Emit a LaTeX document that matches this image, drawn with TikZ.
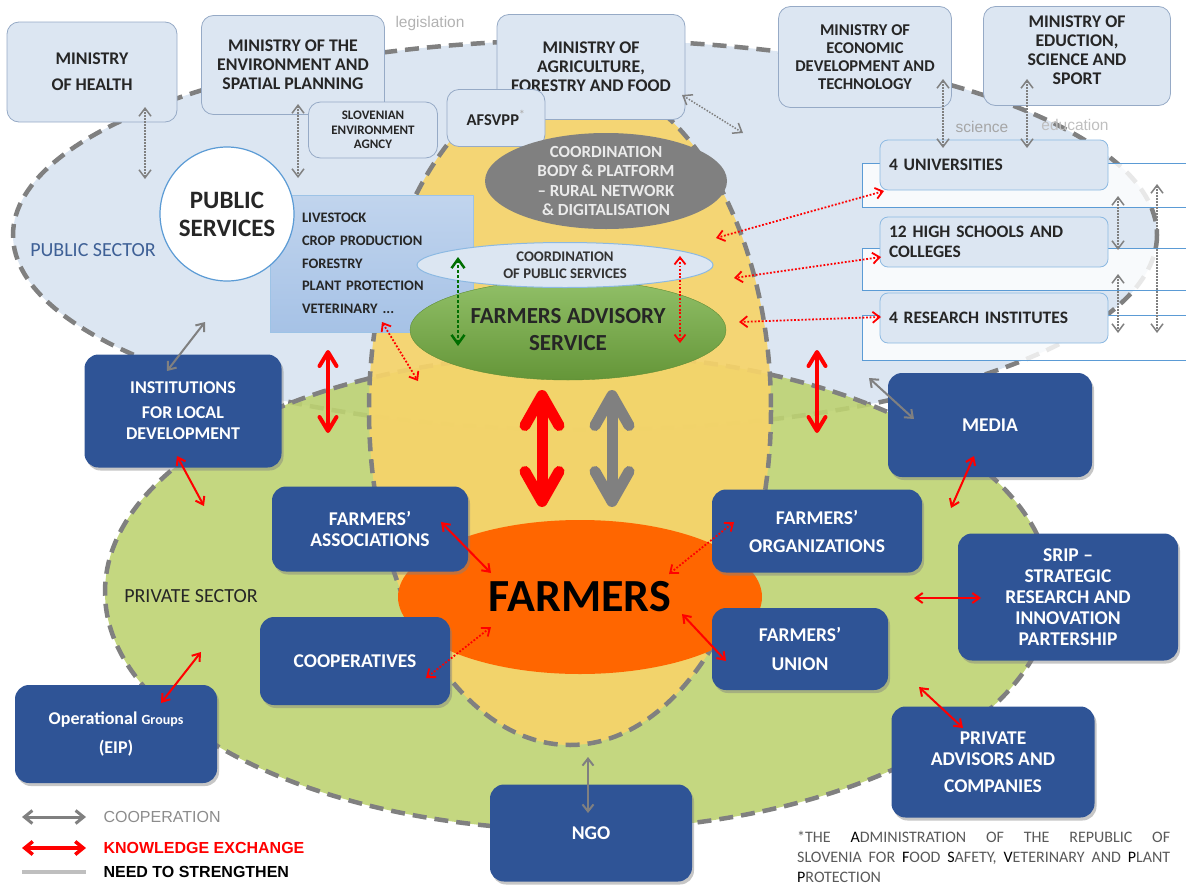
\documentclass[tikz,border=0pt]{standalone}
\usepackage{fontspec}
\setmainfont{Carlito}
\newfontfamily\arialfont{Liberation Sans}
\usetikzlibrary{arrows.meta,shapes.geometric,shadows}

\definecolor{pubblue}{RGB}{220,230,242}
\definecolor{privgreen}{RGB}{190,211,114}
\definecolor{coreyellow}{RGB}{247,212,106}
\definecolor{dashgray}{RGB}{128,128,128}
\definecolor{boxedge}{RGB}{150,170,198}
\definecolor{navy}{RGB}{47,84,150}
\definecolor{advgreen}{RGB}{118,176,66}
\definecolor{farmorange}{RGB}{255,102,0}
\definecolor{linkblue}{RGB}{91,155,213}
\definecolor{listblue}{RGB}{166,194,230}
\definecolor{knowred}{RGB}{255,0,0}
\definecolor{darkgreen}{RGB}{0,110,0}
\definecolor{sectorblue}{RGB}{62,96,150}

\tikzset{
  sector/.style={draw=dashgray, line width=4.5pt, dash pattern=on 14pt off 8pt},
  ministry/.style={draw=boxedge, fill=pubblue, rounded corners=12pt, line width=0.8pt, align=center, text=black!85, font=\fontsize{17.8}{19}\selectfont\bfseries},
  school/.style={draw=linkblue!70, fill=pubblue, rounded corners=8pt, line width=0.8pt, minimum width=228pt, minimum height=50pt, text width=210pt, align=left, text=black!85, font=\fontsize{17.5}{20}\selectfont\bfseries},
  actor/.style={fill=navy, rounded corners=14pt, align=center, text=white, font=\fontsize{19.5}{21}\selectfont\bfseries, drop shadow={opacity=0.45, shadow xshift=2pt, shadow yshift=-3pt}},
  faint/.style={text=black!35, font=\arialfont\fontsize{15.5}{18}\selectfont},
  legendtext/.style={anchor=west, font=\arialfont\fontsize{16}{19}\selectfont},
  legendbold/.style={anchor=west, font=\arialfont\fontsize{16}{19}\selectfont\bfseries},
  coop/.style={<->, >={Straight Barb[length=7pt,width=11pt]}, draw=dashgray, line width=2pt},
  coopdot/.style={<->, >={Straight Barb[length=8pt,width=12pt]}, draw=dashgray, line width=1.5pt, dash pattern=on 1.5pt off 1.5pt},
  know/.style={<->, >={Straight Barb[length=7pt,width=10pt]}, draw=knowred, line width=2pt},
  knowdot/.style={<->, >={Straight Barb[length=7pt,width=11pt]}, draw=knowred, line width=1.8pt, dash pattern=on 1.8pt off 1.8pt},
  bigtip/.style={<->, >={Straight Barb[length=30pt,width=34pt,round]}, line width=11pt},
}

\begin{document}
\begin{tikzpicture}[x=1pt, y=-1pt]
\useasboundingbox (0,0) rectangle (1186,889);

% sectors
\filldraw [sector, fill=pubblue] (585,235) ellipse [x radius=572, y radius=195];
\filldraw [sector, fill=privgreen, fill opacity=0.9] (578,592) ellipse [x radius=473, y radius=238];
\filldraw [sector, fill=coreyellow, fill opacity=0.92] (570,410) ellipse [x radius=201, y radius=335];

% white bands behind the schools
\foreach \ytop/\ybot in {163/207, 248/290, 315/360}
  \filldraw [draw=linkblue, fill=white, fill opacity=0.82, line width=1pt] (1200,\ytop) -- (862,\ytop) -- (862,\ybot) -- (1200,\ybot);

\node [faint, text=black!30] (legis) at (430,23) {legislation};
\node [faint] (sci) at (982,127) {science};
\node [faint, text=black!25] (edutxt) at (1075,125) {education};
\node [text=sectorblue, font=\fontsize{20}{22}\selectfont] (pubsec) at (93,250) {PUBLIC SECTOR};
\node [text=black!85, font=\fontsize{20}{22}\selectfont] (privsec) at (191,596) {PRIVATE SECTOR};

% ministries
\node [ministry, minimum width=170pt, minimum height=100pt] (health) at (92,72) {MINISTRY\\[7pt]OF HEALTH};
\node [ministry, minimum width=183pt, minimum height=99pt] (environ) at (293,65) {MINISTRY OF THE\\ENVIRONMENT AND\\SPATIAL PLANNING};
\node [ministry, minimum width=129pt, minimum height=56pt, font=\fontsize{13}{14.5}\selectfont\bfseries] (slovenv) at (373,130) {SLOVENIAN\\ENVIRONMENT\\AGNCY};
\node [ministry, minimum width=188pt, minimum height=105pt] (agri) at (591,67) {MINISTRY OF\\AGRICULTURE,\\FORESTRY AND FOOD};
\node [ministry, minimum width=98pt, minimum height=57pt, font=\fontsize{16.5}{18}\selectfont\bfseries] (afsvpp) at (496,118) {AFSVPP\textsuperscript{\textcolor{black!30}{*}}};
\node [ministry, minimum width=173pt, minimum height=101pt, font=\fontsize{16.5}{18}\selectfont\bfseries] (econ) at (865,57) {MINISTRY OF\\ECONOMIC\\DEVELOPMENT AND\\TECHNOLOGY};
\node [ministry, minimum width=187pt, minimum height=99pt] (educ) at (1077,56) {MINISTRY OF\\EDUCTION,\\SCIENCE AND\\SPORT\\[-7pt]\mbox{}};

% schools
\node [school] (univ) at (994,165) {4 UNIVERSITIES};
\node [school] (hschool) at (994,242) {12 HIGH SCHOOLS AND\\COLLEGES};
\node [school] (resinst) at (994,318) {4 RESEARCH INSTITUTES};

% public services
\node [draw=linkblue!60, top color=listblue!70!white, bottom color=listblue, line width=1pt, minimum width=203pt, minimum height=137pt, inner xsep=32pt, text width=139pt, align=left, font=\fontsize{14.5}{22.7}\selectfont\bfseries, text=black!85] (topics) at (371.5,263.5) {LIVESTOCK\\CROP PRODUCTION\\FORESTRY\\PLANT PROTECTION\\VETERINARY ...};
\node [circle, draw=linkblue, fill=white, line width=1.2pt, minimum size=134pt, align=center, font=\fontsize{25}{28}\selectfont\bfseries, text=black!85] (pubserv) at (227,214) {PUBLIC\\SERVICES};

% core
\node [ellipse, fill=dashgray, minimum width=242pt, minimum height=96pt] (coordbody) at (606,181) {};
\node [align=center, text=white!92!black, font=\fontsize{17}{19.5}\selectfont\bfseries] (coordtxt) at (coordbody) {COORDINATION\\BODY \& PLATFORM\\– RURAL NETWORK\\\& DIGITALISATION};
\node [ellipse, draw=advgreen!80!black, top color=advgreen!80!white, bottom color=advgreen!85!black, minimum width=316pt, minimum height=100pt, align=center, font=\fontsize{23}{27}\selectfont\bfseries, text=black!85] (advisory) at (568,330) {FARMERS ADVISORY\\SERVICE};
\node [ellipse, draw=linkblue!70, fill=pubblue, line width=1pt, minimum width=296pt, minimum height=45pt, inner sep=0pt, align=center, font=\fontsize{14.7}{17}\selectfont\bfseries, text=black!80] (coordpub) at (565,265) {COORDINATION\\OF PUBLIC SERVICES};
\node [ellipse, fill=farmorange, minimum width=364pt, minimum height=154pt, font=\fontsize{46}{50}\selectfont\bfseries] (farmers) at (580,597) {FARMERS};

% actors
\node [actor, minimum width=197pt, minimum height=113pt, font=\fontsize{18}{21}\selectfont\bfseries] (instit) at (183,411) {INSTITUTIONS\\[4pt]FOR LOCAL\\DEVELOPMENT};
\node [actor, minimum width=196pt, minimum height=85pt] (assoc) at (370,529) {FARMERS’\\ASSOCIATIONS};
\node [actor, minimum width=190pt, minimum height=88pt] (coopv) at (355,661) {COOPERATIVES};
\node [actor, minimum width=202pt, minimum height=98pt, font=\fontsize{18}{21}\selectfont\bfseries] (opgroup) at (116,734) {Operational {\fontsize{14}{17}\selectfont Groups}\\[8pt](EIP)};
\node [actor, minimum width=204pt, minimum height=104pt] (media) at (990,425) {MEDIA};
\node [actor, minimum width=210pt, minimum height=83pt] (farmorg) at (817,531) {FARMERS’\\[7pt]ORGANIZATIONS};
\node [actor, minimum width=220pt, minimum height=127pt] (srip) at (1068,597) {SRIP –\\STRATEGIC\\RESEARCH AND\\INNOVATION\\PARTERSHIP};
\node [actor, minimum width=176pt, minimum height=82pt] (funion) at (800,649) {FARMERS’\\[8pt]UNION};
\node [actor, minimum width=203pt, minimum height=111pt] (privadv) at (993,762) {PRIVATE\\ADVISORS AND\\[6pt]COMPANIES};
\node [actor, minimum width=202pt, minimum height=97pt] (ngo) at (591,833) {NGO};

% arrow ends
\coordinate (hl1) at (145,107); \coordinate (hl2) at (145,179);
\coordinate (en1) at (298,104); \coordinate (en2) at (298,178);
\coordinate (ag1) at (682,95); \coordinate (ag2) at (743,133);
\coordinate (ec1) at (943,79); \coordinate (ec2) at (943,148);
\coordinate (ed1) at (1027,79); \coordinate (ed2) at (1027,148);
\coordinate (sc1) at (1118,196); \coordinate (sc2) at (1118,250);
\coordinate (sc3) at (1118,274); \coordinate (sc4) at (1118,333);
\coordinate (sc5) at (1157,184); \coordinate (sc6) at (1157,333);
\coordinate (in1) at (205,322); \coordinate (in2) at (167,371);
\coordinate (me1) at (869,378); \coordinate (me2) at (914,419);
\coordinate (ng1) at (588,757); \coordinate (ng2) at (588,813);
\coordinate (as1) at (441,522); \coordinate (as2) at (491,573);
\coordinate (un1) at (682,614); \coordinate (un2) at (726,661);
\coordinate (in3) at (177,456); \coordinate (in4) at (204,506);
\coordinate (op1) at (201,652); \coordinate (op2) at (161,703);
\coordinate (me3) at (974,456); \coordinate (me4) at (951,508);
\coordinate (sr1) at (914,598); \coordinate (sr2) at (981,598);
\coordinate (pa1) at (919,687); \coordinate (pa2) at (963,728);
\coordinate (un3) at (884,191); \coordinate (un4) at (716,238);
\coordinate (hs1) at (881,257); \coordinate (hs2) at (734,278);
\coordinate (ri1) at (881,317); \coordinate (ri2) at (739,322);
\coordinate (vt1) at (382,322); \coordinate (vt2) at (418,381);
\coordinate (fa1) at (680,256); \coordinate (fa2) at (680,343);
\coordinate (fa3) at (458,257); \coordinate (fa4) at (458,346);
\coordinate (fo1) at (669,574); \coordinate (fo2) at (734,522);
\coordinate (co1) at (491,627); \coordinate (co2) at (426,678);
\coordinate (pl1) at (328,350); \coordinate (pl2) at (328,433);
\coordinate (pr1) at (817,350); \coordinate (pr2) at (817,433);
\coordinate (bg1) at (542,390); \coordinate (bg2) at (542,507);
\coordinate (bg3) at (612,390); \coordinate (bg4) at (612,507);

% cooperation
\draw [coopdot] (hl1) -- (hl2);
\draw [coopdot] (en1) -- (en2);
\draw [coopdot] (ag1) -- (ag2);
\draw [coopdot] (ec1) -- (ec2);
\draw [coopdot] (ed1) -- (ed2);
\draw [coopdot] (sc1) -- (sc2);
\draw [coopdot] (sc3) -- (sc4);
\draw [coopdot] (sc5) -- (sc6);
\draw [coop] (in1) -- (in2);
\draw [coop] (me1) -- (me2);
\draw [coop] (ng1) -- (ng2);

% knowledge exchange
\draw [know] (as1) -- (as2);
\draw [know] (un1) -- (un2);
\draw [know] (in3) -- (in4);
\draw [know] (op1) -- (op2);
\draw [know] (me3) -- (me4);
\draw [know] (sr1) -- (sr2);
\draw [know] (pa1) -- (pa2);
\draw [knowdot] (un3) -- (un4);
\draw [knowdot] (hs1) -- (hs2);
\draw [knowdot] (ri1) -- (ri2);
\draw [knowdot] (vt1) -- (vt2);
\draw [knowdot] (fa1) -- (fa2);
\draw [knowdot] (fo1) -- (fo2);
\draw [knowdot] (co1) -- (co2);
\draw [knowdot, draw=darkgreen, line width=2.5pt, dash pattern=on 2.5pt off 2.5pt, >={Straight Barb[length=9pt,width=13pt]}] (fa3) -- (fa4);

% main links to farmers
\draw [<->, >={Straight Barb[length=14pt,width=17pt,round]}, draw=knowred, line width=4pt] (pl1) -- (pl2);
\draw [<->, >={Straight Barb[length=14pt,width=17pt,round]}, draw=knowred, line width=4pt] (pr1) -- (pr2);
\draw [bigtip, draw=knowred] (bg1) -- (bg2);
\draw [bigtip, draw=dashgray] (bg3) -- (bg4);

% legend
\coordinate (lg1) at (22,817); \coordinate (lg2) at (86,817);
\coordinate (lg3) at (22,848); \coordinate (lg4) at (86,848);
\coordinate (lg5) at (22,872); \coordinate (lg6) at (86,872);
\draw [coop, line width=3pt, >={Straight Barb[length=8pt,width=13pt]}] (lg1) -- (lg2);
\draw [know, line width=3.5pt, >={Straight Barb[length=8pt,width=13pt]}] (lg3) -- (lg4);
\draw [draw=black!25, line width=4pt] (lg5) -- (lg6);
\node [legendtext, text=black!45] (legcoop) at (100,817) {COOPERATION};
\node [legendbold, text=knowred] (legknow) at (100,848) {KNOWLEDGE EXCHANGE};
\node [legendbold, text=black] (legneed) at (100,872) {NEED TO STRENGTHEN};

% footnote
\node [anchor=north west, inner sep=0pt, text width=373pt, align=justify, text=black!65, font=\fontsize{16}{20}\selectfont] (note) at (797,831) {*THE \textcolor{black}{A}DMINISTRATION OF THE REPUBLIC OF\linebreak SLOVENIA FOR \textcolor{black}{F}OOD \textcolor{black}{S}AFETY, \textcolor{black}{V}ETERINARY AND \textcolor{black}{P}LANT\linebreak \textcolor{black}{P}ROTECTION};
\end{tikzpicture}
\end{document}
